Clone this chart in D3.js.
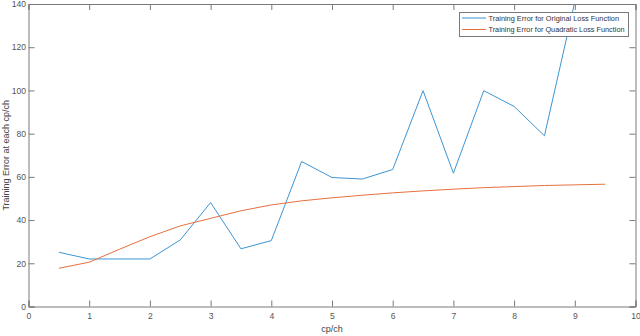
<!DOCTYPE html>
<html>
<head>
<meta charset="utf-8">
<script src="https://cdn.jsdelivr.net/npm/d3@7"></script>
<style>
  body { margin: 0; background: #fff; }
  text { font-family: "Liberation Sans", Arial, sans-serif; }
</style>
</head>
<body>
<div id="chart"></div>
<script>
// data
var xValues = [0.5, 1, 1.5, 2, 2.5, 3, 3.5, 4, 4.5, 5, 5.5, 6, 6.5, 7, 7.5, 8, 8.5, 9, 9.5];
var originalLoss = [25.1, 22, 22, 22, 30.8, 48.1, 26.7, 30.5, 67.1, 59.7, 59, 63.4, 99.9, 61.7, 99.9, 92.6, 79, 141];
var quadraticLoss = [17.7, 20.5, 26.5, 32.3, 37.3, 40.8, 44.3, 47, 48.9, 50.3, 51.5, 52.6, 53.5, 54.3, 55, 55.5, 56, 56.3, 56.6];
var xTicks = [0, 1, 2, 3, 4, 5, 6, 7, 8, 9, 10];
var yTicks = [0, 20, 40, 60, 80, 100, 120, 140];
var legendLabels = ["Training Error for Original Loss Function", "Training Error for Quadratic Loss Function"];

var w = 640, h = 336;
// plot box edges (note: "top" is reserved on window, so use other names)
var plotL = 28.5, plotR = 635.5, plotT = 4, plotB = 306.5;
var colors = ["#3d95d3", "#e5703f"];
var axisColor = "#7a7a7a";

var svg = d3.select("#chart").append("svg").attr("width", w).attr("height", h);

var xScale = d3.scaleLinear().domain([0, 10]).range([plotL, plotR]);
var yScale = d3.scaleLinear().domain([0, 140]).range([plotB, plotT]);

svg.append("clipPath").attr("id", "plotclip")
    .append("rect").attr("x", plotL).attr("y", plotT)
    .attr("width", plotR - plotL).attr("height", plotB - plotT);

// lines
var line = d3.line()
    .x(function(d) { return xScale(d[0]); })
    .y(function(d) { return yScale(d[1]); });

var series = [originalLoss, quadraticLoss];
series.forEach(function(vals, i) {
    var pts = vals.map(function(v, j) { return [xValues[j], v]; });
    svg.append("path")
        .attr("d", line(pts))
        .attr("fill", "none")
        .attr("stroke", colors[i])
        .attr("stroke-width", 1)
        .attr("clip-path", "url(#plotclip)");
});

// axes, ticks inside, box on
var xAxis = d3.axisBottom(xScale).tickValues(xTicks).tickSize(-6).tickPadding(6).tickFormat(d3.format("d"));
var xAxisTop = d3.axisTop(xScale).tickValues(xTicks).tickSize(-6).tickFormat("");
var yAxis = d3.axisLeft(yScale).tickValues(yTicks).tickSize(-6).tickPadding(2.5).tickFormat(d3.format("d"));
var yAxisRight = d3.axisRight(yScale).tickValues(yTicks).tickSize(-6).tickFormat("");

function styleAxis(g) {
    g.selectAll(".domain").attr("stroke", axisColor).attr("stroke-width", 1);
    g.selectAll(".tick line").attr("stroke", axisColor);
    g.selectAll(".tick text").attr("fill", "#555").style("font-size", "8.6px").style("font-family", "Liberation Sans, Arial, sans-serif");
}

svg.append("g").attr("transform", "translate(0," + plotB + ")").call(xAxis).call(styleAxis);
svg.append("g").attr("transform", "translate(0," + plotT + ")").call(xAxisTop).call(styleAxis);
svg.append("g").attr("transform", "translate(" + plotL + ",0)").call(yAxis).call(styleAxis);
svg.append("g").attr("transform", "translate(" + plotR + ",0)").call(yAxisRight).call(styleAxis);

// axis labels
svg.append("text")
    .attr("x", (plotL + plotR) / 2)
    .attr("y", 332)
    .attr("text-anchor", "middle")
    .style("font-size", "9px")
    .attr("fill", "#444")
    .text("cp/ch");

svg.append("text")
    .attr("transform", "rotate(-90)")
    .attr("x", -(plotT + plotB) / 2)
    .attr("y", 9)
    .attr("text-anchor", "middle")
    .style("font-size", "9px")
    .attr("fill", "#444")
    .text("Training Error at each cp/ch");

// legend
var legend = svg.append("g");
legend.append("rect")
    .attr("x", 459.5).attr("y", 12.5)
    .attr("width", 169).attr("height", 24)
    .attr("fill", "#fff")
    .attr("stroke", axisColor)
    .attr("stroke-width", 1);

legendLabels.forEach(function(lbl, i) {
    var y = 18 + i * 11.5;
    legend.append("line")
        .attr("x1", 462).attr("x2", 486)
        .attr("y1", y).attr("y2", y)
        .attr("stroke", colors[i]).attr("stroke-width", 1);
    legend.append("text")
        .attr("x", 488.5).attr("y", y + 2.7)
        .style("font-size", "7.6px")
        .attr("fill", "#333")
        .attr("textLength", i === 0 ? 130.5 : 136)
        .attr("lengthAdjust", "spacingAndGlyphs")
        .text(lbl);
});
</script>
</body>
</html>
